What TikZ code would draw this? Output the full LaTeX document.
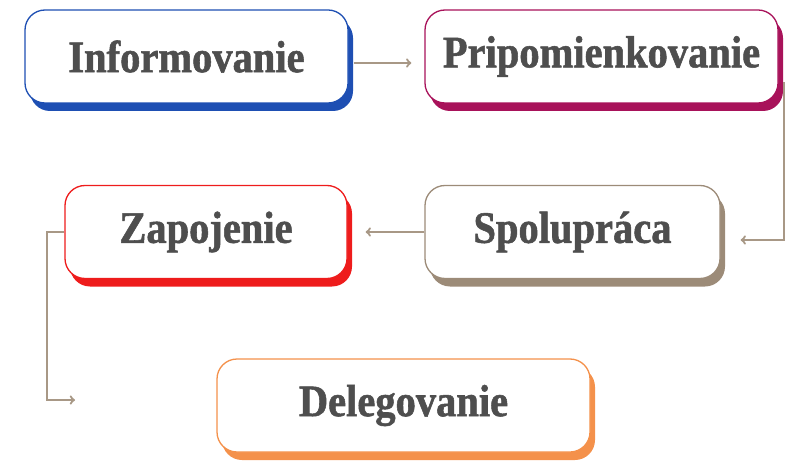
\documentclass[tikz,border=0pt]{standalone}
\usepackage{fontspec}
\setmainfont{Liberation Serif}[FakeStretch=0.9, BoldFeatures={FakeBold=1.2}]
\usetikzlibrary{shadows,calc}
\definecolor{infoblue}{HTML}{1E4FB3}
\definecolor{pripmagenta}{HTML}{A8125A}
\definecolor{spolutaupe}{HTML}{9C8B78}
\definecolor{zapred}{HTML}{EE1C1C}
\definecolor{delorange}{HTML}{F4914B}
\definecolor{textgray}{HTML}{4E4E4E}
\definecolor{linkgray}{HTML}{A89886}

\begin{document}
\begin{tikzpicture}[x=1pt, y=-1pt,
    stage/.style={draw=#1, fill=white, line width=1.3pt, rounded corners=20pt,
        minimum height=93pt, text=textgray,
        font=\fontsize{45}{50}\selectfont\bfseries,
        drop shadow={shadow xshift=5pt, shadow yshift=-8pt, fill=#1, opacity=1}},
    link/.style={->, line width=2.2pt, draw=linkgray}]
    \useasboundingbox (0,0) rectangle (786,462);
    \node[stage=infoblue,    minimum width=323pt] (1) at (186.5, 56.5) {Informovanie};
    \node[stage=pripmagenta, minimum width=353pt] (2) at (601.5, 56.5) {Pripomienkovanie};
    \node[stage=spolutaupe,  minimum width=295pt] (3) at (572.5, 232)  {Spolupráca};
    \node[stage=zapred,      minimum width=282pt] (4) at (206, 232)    {Zapojenie};
    \node[stage=delorange,   minimum width=373pt] (5) at (403.5, 405.5) {Delegovanie};
    % free end of the last connector
    \coordinate (d) at (75, 400);
    \draw[link, shorten <=5pt, shorten >=13pt]
        ($(1.east)+(0,6.5)$) -- ($(2.west)+(0,6.5)$);
    \draw[link] ($(2.east)+(5,26)$) |- ($(3.east)+(20,8)$);
    \draw[link, shorten >=18pt] (3.west) -- (4.east);
    \draw[link] (4.west) -- ++(-17,0) |- (d);
\end{tikzpicture}
\end{document}
